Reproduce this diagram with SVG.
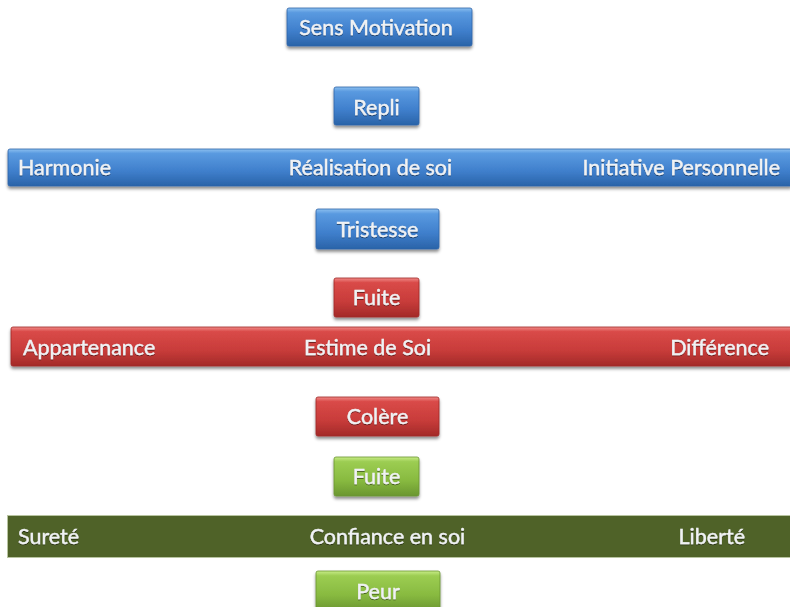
<svg xmlns="http://www.w3.org/2000/svg" width="790" height="607" viewBox="0 0 790 607">
<defs>
<linearGradient id="gBlue" x1="0" y1="0" x2="0" y2="1">
<stop offset="0" stop-color="#8cc0f0"/><stop offset="0.12" stop-color="#5a9ae0"/><stop offset="0.6" stop-color="#3f7fcc"/><stop offset="1" stop-color="#2a63a8"/>
</linearGradient>
<linearGradient id="gRed" x1="0" y1="0" x2="0" y2="1">
<stop offset="0" stop-color="#f08a88"/><stop offset="0.12" stop-color="#d94a48"/><stop offset="0.6" stop-color="#c83c3a"/><stop offset="1" stop-color="#a32a28"/>
</linearGradient>
<linearGradient id="gGreen" x1="0" y1="0" x2="0" y2="1">
<stop offset="0" stop-color="#c8ec88"/><stop offset="0.12" stop-color="#9ccd52"/><stop offset="0.6" stop-color="#88ba40"/><stop offset="1" stop-color="#6a9630"/>
</linearGradient>
<filter id="sh" x="-10%" y="-20%" width="120%" height="160%">
<feDropShadow dx="0" dy="2.5" stdDeviation="1.8" flood-color="#000" flood-opacity="0.45"/>
</filter>
<filter id="ts" x="-5%" y="-20%" width="110%" height="150%">
<feDropShadow dx="0" dy="1" stdDeviation="0.6" flood-color="#000" flood-opacity="0.5"/>
</filter>
</defs>
<style>
.blue{fill:url(#gBlue);stroke:#2d64a8;stroke-width:0.8;filter:url(#sh)}
.red{fill:url(#gRed);stroke:#a02826;stroke-width:0.8;filter:url(#sh)}
.green{fill:url(#gGreen);stroke:#6a9630;stroke-width:0.8;filter:url(#sh)}
.olive{fill:#4f6228;stroke:#b8c4a0;stroke-width:1}
text{font-family:Lato,"Open Sans","Liberation Sans",sans-serif;font-size:21.5px;fill:#f0f2f4;stroke:#f0f2f4;stroke-width:0.4;filter:url(#ts)}
.c{text-anchor:middle}
.e{text-anchor:end}
</style>
<g id="sens-motivation"><rect class="blue" x="287" y="8" width="185" height="38" rx="2"/><text class="c" x="376" y="35">Sens Motivation</text></g>
<g id="repli"><rect class="blue" x="334" y="87" width="85" height="38" rx="2"/><text class="c" x="376.5" y="115">Repli</text></g>
<g id="bar-blue"><rect class="blue" x="8" y="149" width="784" height="37" rx="2"/>
<text x="18" y="175">Harmonie</text><text x="370.5" y="175" class="c">Réalisation de soi</text><text x="780" y="175" class="e">Initiative Personnelle</text></g>
<g id="tristesse"><rect class="blue" x="316" y="209" width="123" height="40" rx="2"/><text class="c" x="377.5" y="237">Tristesse</text></g>
<g id="fuite-red"><rect class="red" x="334" y="278" width="85" height="39" rx="2"/><text class="c" x="376.5" y="305">Fuite</text></g>
<g id="bar-red"><rect class="red" x="11" y="327" width="781" height="39" rx="2"/>
<text x="23" y="355">Appartenance</text><text x="367.5" y="355" class="c">Estime de Soi</text><text x="769" y="355" class="e">Différence</text></g>
<g id="colere"><rect class="red" x="316" y="397" width="123" height="39" rx="2"/><text class="c" x="377.5" y="424">Colère</text></g>
<g id="fuite-green"><rect class="green" x="334" y="457" width="85" height="39" rx="2"/><text class="c" x="376.5" y="484">Fuite</text></g>
<g id="bar-green"><rect class="olive" x="7.5" y="515.5" width="784" height="42"/>
<text x="18" y="544">Sureté</text><text x="387.5" y="544" class="c">Confiance en soi</text><text x="745" y="544" class="e">Liberté</text></g>
<g id="peur"><rect class="green" x="316" y="571" width="124" height="40" rx="2"/><text class="c" x="378" y="599">Peur</text></g>
</svg>
